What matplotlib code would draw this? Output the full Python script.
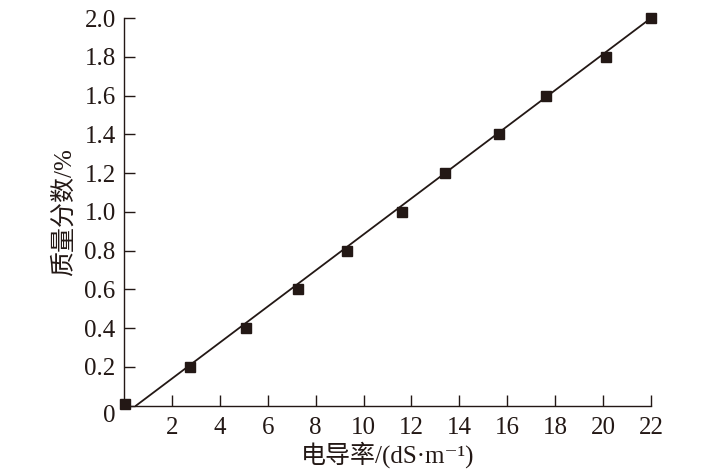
import matplotlib
matplotlib.use("Agg")
from matplotlib import pyplot as plt
from matplotlib import transforms

# измеренные точки
conductivity = [0.05, 2.76, 5.1, 7.28, 9.29, 11.59, 13.39, 15.65, 17.6, 20.1, 22.0]
mass_fraction = [0.01, 0.2, 0.4, 0.6, 0.8, 1.0, 1.2, 1.4, 1.6, 1.8, 2.0]

# концы линии аппроксимации
fit_x = [0.5, 22.0]
fit_y = [0.0, 2.0]

x_ticks = list(range(2, 23, 2))
y_ticks = [0, 0.2, 0.4, 0.6, 0.8, 1.0, 1.2, 1.4, 1.6, 1.8, 2.0]
y_labels = ["0", "0.2", "0.4", "0.6", "0.8", "1.0", "1.2", "1.4", "1.6", "1.8", "2.0"]

INK = "#231815"
FONT = ["Liberation Serif", "Noto Sans CJK SC", "DejaVu Serif"]

plt.rcParams["font.family"] = FONT

fig = plt.figure(figsize=(7.17, 4.75), dpi=100)
ax = fig.add_axes([0.173, 0.146, 0.735, 0.816])

ax.plot(fit_x, fit_y, color=INK, linewidth=1.3)
ax.plot(conductivity, mass_fraction, linestyle="none", marker="s",
        markersize=7, color=INK, clip_on=False, zorder=3)

ax.set_xlim(0, 22)
ax.set_ylim(0, 2.0)
ax.set_xticks(x_ticks)
ax.set_yticks(y_ticks)
ax.set_yticklabels(y_labels)

for side in ("top", "right"):
    ax.spines[side].set_visible(False)
for side in ("left", "bottom"):
    ax.spines[side].set_color(INK)
    ax.spines[side].set_linewidth(1.0)

ax.tick_params(direction="in", length=8, width=1.0, colors=INK,
               labelsize=18, labelcolor=INK)
ax.tick_params(axis="x", pad=8)
ax.tick_params(axis="y", pad=6)

# подпись "0" ниже оси
zero = ax.get_yticklabels()[0]
zero.set_transform(zero.get_transform() +
                   transforms.ScaledTranslation(0, -6 / 72, fig.dpi_scale_trans))

ax.set_xlabel("电导率/(dS·m⁻¹)", fontsize=18, color=INK, labelpad=2)
ax.set_ylabel("质量分数/%", fontsize=18, color=INK, labelpad=6)

fig.savefig("out.png", dpi=100)
